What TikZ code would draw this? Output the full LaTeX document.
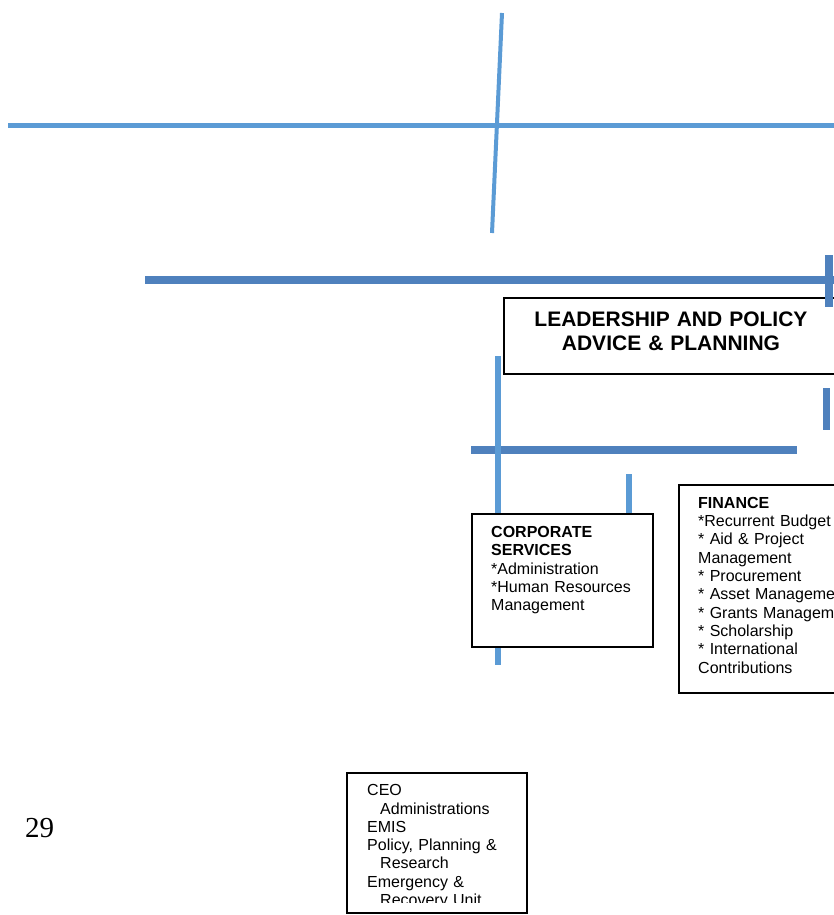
\documentclass[tikz,border=0pt]{standalone}
\usepackage{fontspec}
\setmainfont{Liberation Sans}
\newfontfamily\pagenumfont{Liberation Serif}
\definecolor{lineblue}{HTML}{5B9BD5}
\definecolor{ruleblue}{HTML}{4F81BD}
\begin{document}
\begin{tikzpicture}[x=1pt,y=-1pt,
  lightrule/.style={draw=lineblue, line width=5pt},
  darkrule/.style={draw=ruleblue, line width=8pt},
  unitbox/.style={draw=black, fill=white, line width=2pt, rectangle,
    inner sep=0pt, anchor=north west},
  boxtext/.style={font=\fontsize{16}{18.3}\selectfont, align=left,
    text width=200pt, anchor=base west, inner sep=0pt},
  titletext/.style={font=\bfseries\fontsize{21}{23.3}\selectfont, align=center,
    text width=330pt, anchor=base, inner sep=0pt},
]
\useasboundingbox (0,0) rectangle (834,915);

% upper cross
\coordinate (crossW) at (8,126);
\coordinate (crossE) at (840,126);
\coordinate (crossN) at (502,13);
\coordinate (crossS) at (492,233);
\draw[lightrule] (crossW) -- (crossE);
\draw[lightrule, line width=4pt] (crossN) -- (crossS);

% bar above the leadership box
\coordinate (barW) at (145,280);
\coordinate (barE) at (840,280);
\draw[darkrule] (barW) -- (barE);

% leadership box
\node[unitbox, minimum width=336pt, minimum height=76pt] (lead) at (503,297) {};
\node[titletext] (leadtxt) at (671,326.7)
  {LEADERSHIP AND POLICY\\ADVICE \& PLANNING};

\coordinate (riseN) at (829,255);
\coordinate (riseS) at (829,307);
\draw[darkrule] (riseN) -- (riseS);
\coordinate (dropN) at (826,388);
\coordinate (dropS) at (826,430);
\draw[darkrule, line width=7pt] (dropN) -- (dropS);

% branch bar and its drops
\coordinate (branchW) at (471,450);
\coordinate (branchE) at (797,450);
\draw[darkrule] (branchW) -- (branchE);
\coordinate (spineN) at (498,356);
\coordinate (spineS) at (498,665);
\draw[lightrule, line width=5.5pt] (spineN) -- (spineS);
\coordinate (stubN) at (629,474);

% corporate services
\node[unitbox, minimum width=181pt, minimum height=133pt] (corp) at (471,513) {};
\draw[lightrule, line width=6pt] (stubN) -- (stubN |- corp.north);
\node[boxtext] (corptxt) at (491,537.5)
  {\textbf{CORPORATE}\\\textbf{SERVICES}\\{}*Administration\\{}*Human Resources\\Management};

% finance
\node[unitbox, line width=1.6pt, minimum width=180pt, minimum height=208pt] (fin) at (678,484) {};
\node[boxtext] (fintxt) at (698,508.3)
  {\textbf{FINANCE}\\{}*Recurrent Budget\\{}* Aid \& Project\\Management\\{}* Procurement\\{}* Asset Management\\{}* Grants Management\\{}* Scholarship\\{}* International\\Contributions};

% office of the CEO
\node[unitbox, line width=1.5pt, minimum width=180pt, minimum height=140pt] (ceo) at (346,772) {};
\begin{scope}
  \clip (347,773) rectangle (525,902);
  \node[boxtext] (ceotxt) at (367,795.7)
    {CEO\\\hspace*{13pt}Administrations\\EMIS\\Policy, Planning \&\\\hspace*{13pt}Research\\Emergency \&\\\hspace*{13pt}Recovery Unit};
\end{scope}

% page number
\node[font=\pagenumfont\fontsize{29}{31}\selectfont, anchor=base west, inner sep=0pt]
  (pagenum) at (25,837) {29};
\end{tikzpicture}
\end{document}
